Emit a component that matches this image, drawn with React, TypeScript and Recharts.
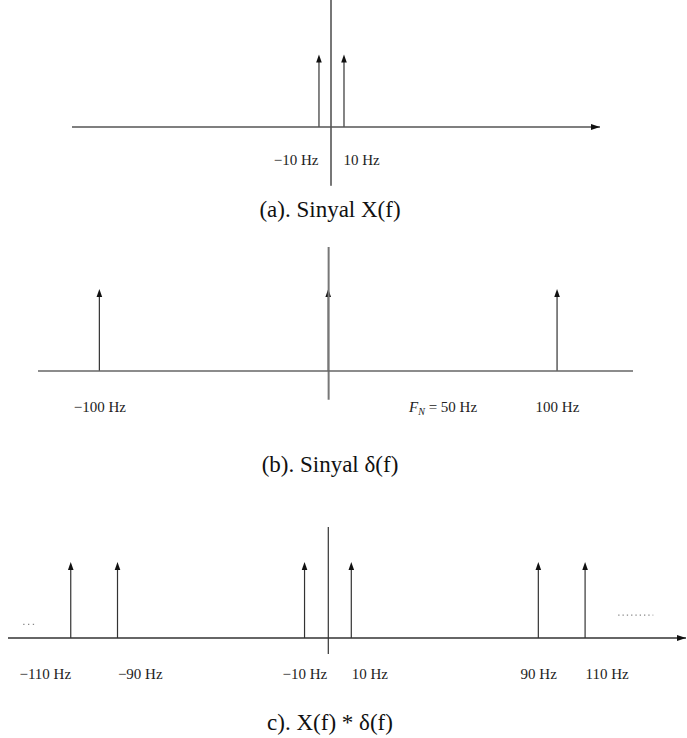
import React from 'react';
import { ComposedChart, Bar, XAxis, YAxis, ReferenceLine, Scatter } from 'recharts';

// Panel (a): X(f)
const freqA = [-10, 10];
const ampA = [1, 1];
const ticksA = [-10, 10];
const tickLabelsA = ['\u221210 Hz', '10 Hz'];
const anchorsA = ['end', 'start'];
const domainA = [-207, 215];

// Panel (b): delta(f)
const freqB = [-100, 0, 100];
const ampB = [1, 1, 1];
const ticksB = [-100, 50, 100];
const tickLabelsB = ['\u2212100 Hz', 'F_N = 50 Hz', '100 Hz'];
const anchorsB = ['middle', 'middle', 'middle'];
const domainB = [-127, 133];

// Panel (c): X(f) * delta(f)
const freqC = [-110, -90, -10, 10, 90, 110];
const ampC = [1, 1, 1, 1, 1, 1];
const ticksC = [-110, -90, -10, 10, 90, 110];
const tickLabelsC = ['\u2212110 Hz', '\u221290 Hz', '\u221210 Hz', '10 Hz', '90 Hz', '110 Hz'];
const anchorsC = ['end', 'start', 'middle', 'start', 'middle', 'start'];
const domainC = [-137, 153];
const dotsLeftC = [-130.5, -124.5];
const dotsRightC = [124, 139];

const captions = ['(a). Sinyal X(f)', '(b). Sinyal \u03b4(f)', 'c). X(f) * \u03b4(f)'];

const SERIF = '"Liberation Serif", "Times New Roman", serif';

const Impulse = (props: any) => {
  const { x, y, width, height } = props;
  if (height == null || height <= 0) return null;
  const cx = x + width / 2;
  return (
    <g>
      <line x1={cx} x2={cx} y1={y + height} y2={y + 6} stroke="#333" strokeWidth={1.2} />
      <polygon points={`${cx - 2.8},${y + 8} ${cx + 2.8},${y + 8} ${cx},${y}`} fill="#111" />
    </g>
  );
};

const RightArrowHead = (props: any) => {
  const { cx, cy } = props;
  return <polygon points={`${cx - 9},${cy - 3} ${cx - 9},${cy + 3} ${cx},${cy}`} fill="#111" />;
};

const makeTick = (ticks: number[], labels: string[], anchors: string[]) => (props: any) => {
  const { x, y, payload } = props;
  const i = ticks.indexOf(payload.value);
  if (i < 0) return null;
  const label = labels[i];
  if (label.startsWith('F_N')) {
    return (
      <text x={x} y={y} dy="0.71em" textAnchor={anchors[i] as any} fontFamily={SERIF} fontSize={15} fill="#222">
        <tspan fontStyle="italic">F</tspan>
        <tspan fontStyle="italic" fontSize={10} dy={3}>N</tspan>
        <tspan dy={-3}>{label.replace('F_N', '')}</tspan>
      </text>
    );
  }
  return (
    <text x={x} y={y} dy="0.71em" textAnchor={anchors[i] as any} fontFamily={SERIF} fontSize={15} fill="#222">
      {label}
    </text>
  );
};

const toData = (freq: number[], amp: number[]) => freq.map((f, i) => ({ f, a: amp[i] }));

export default function App() {
  const dataA = toData(freqA, ampA);
  const dataB = toData(freqB, ampB);
  const dataC = toData(freqC, ampC);
  const captionStyle = (top: number): React.CSSProperties => ({
    position: 'absolute',
    left: 0,
    width: 660,
    top,
    textAlign: 'center',
    fontFamily: SERIF,
    fontSize: 23,
    color: '#111',
    lineHeight: '26px',
  });
  return (
    <div style={{ position: 'absolute', left: 0, top: 0, width: 687, height: 738, background: '#fff', overflow: 'hidden' }}>
      {/* Panel A */}
      <div style={{ position: 'absolute', left: 0, top: 0 }}>
        <ComposedChart width={687} height={200} data={dataA} margin={{ top: 0, right: 87, bottom: 33, left: 72 }}>
          <XAxis
            dataKey="f"
            type="number"
            domain={domainA}
            ticks={ticksA}
            height={40}
            tickLine={false}
            tickMargin={21}
            axisLine={{ stroke: '#555', strokeWidth: 1.5 }}
            tick={makeTick(ticksA, tickLabelsA, anchorsA)}
            interval={0}
          />
          <YAxis type="number" domain={[0, 1.75]} hide />
          <ReferenceLine segment={[{ x: 0, y: -0.81 }, { x: 0, y: 1.75 }]} stroke="#777" strokeWidth={2} ifOverflow="visible" />
          <Bar dataKey="a" barSize={2} shape={<Impulse />} isAnimationActive={false} />
          <Scatter data={[{ f: domainA[1], a: 0 }]} dataKey="a" shape={<RightArrowHead />} isAnimationActive={false} />
        </ComposedChart>
      </div>
      <div style={captionStyle(197)}>{captions[0]}</div>

      {/* Panel B */}
      <div style={{ position: 'absolute', left: 0, top: 240 }}>
        <ComposedChart width={687} height={190} data={dataB} margin={{ top: 7, right: 54, bottom: 19, left: 38 }}>
          <XAxis
            dataKey="f"
            type="number"
            domain={domainB}
            ticks={ticksB}
            height={40}
            tickLine={false}
            tickMargin={24}
            axisLine={{ stroke: '#666', strokeWidth: 1.5 }}
            tick={makeTick(ticksB, tickLabelsB, anchorsB)}
            interval={0}
          />
          <YAxis type="number" domain={[0, 1.51]} hide />
          <ReferenceLine segment={[{ x: 0, y: -0.35 }, { x: 0, y: 1.51 }]} stroke="#777" strokeWidth={2} ifOverflow="visible" />
          <Bar dataKey="a" barSize={2} shape={<Impulse />} isAnimationActive={false} />
        </ComposedChart>
      </div>
      <div style={captionStyle(452)}>{captions[1]}</div>

      {/* Panel C */}
      <div style={{ position: 'absolute', left: 0, top: 520 }}>
        <ComposedChart width={687} height={175} data={dataC} margin={{ top: 7, right: 1, bottom: 17, left: 8 }}>
          <XAxis
            dataKey="f"
            type="number"
            domain={domainC}
            ticks={ticksC}
            height={40}
            tickLine={false}
            tickMargin={24}
            axisLine={{ stroke: '#333', strokeWidth: 1.3 }}
            tick={makeTick(ticksC, tickLabelsC, anchorsC)}
            interval={0}
          />
          <YAxis type="number" domain={[0, 1.46]} hide />
          <ReferenceLine segment={[{ x: 0, y: -0.21 }, { x: 0, y: 1.46 }]} stroke="#333" strokeWidth={1.2} ifOverflow="visible" />
          <ReferenceLine segment={[{ x: dotsLeftC[0], y: 0.18 }, { x: dotsLeftC[1], y: 0.18 }]} stroke="#888" strokeWidth={1.3} strokeDasharray="1.3 3.5" ifOverflow="visible" />
          <ReferenceLine segment={[{ x: dotsRightC[0], y: 0.3 }, { x: dotsRightC[1], y: 0.3 }]} stroke="#888" strokeWidth={1.3} strokeDasharray="1.3 3" ifOverflow="visible" />
          <Bar dataKey="a" barSize={2} shape={<Impulse />} isAnimationActive={false} />
          <Scatter data={[{ f: domainC[1], a: 0 }]} dataKey="a" shape={<RightArrowHead />} isAnimationActive={false} />
        </ComposedChart>
      </div>
      <div style={captionStyle(710)}>{captions[2]}</div>
    </div>
  );
}
